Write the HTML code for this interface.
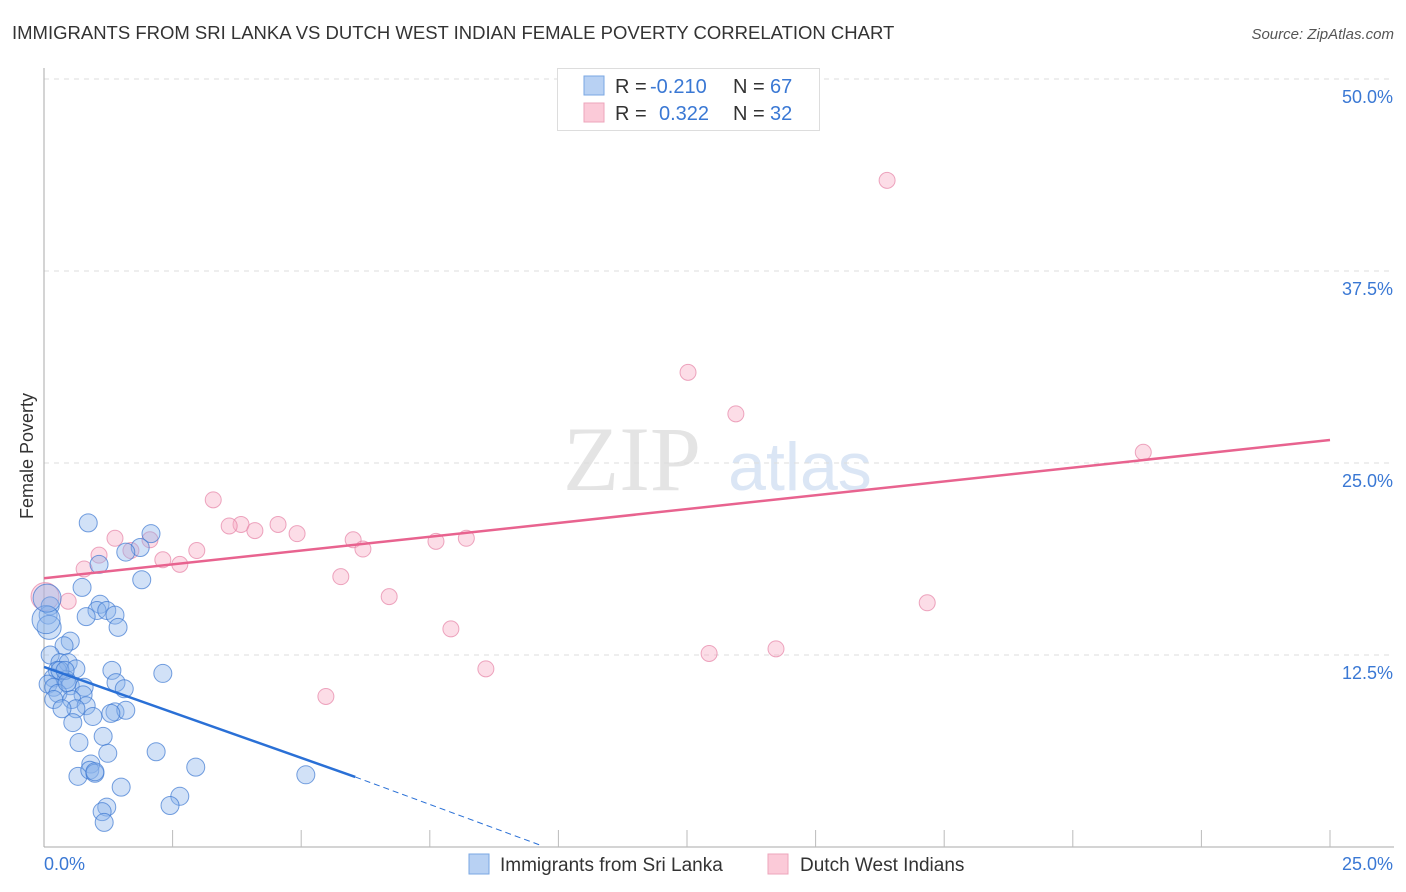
<!DOCTYPE html>
<html><head><meta charset="utf-8"><style>
body{margin:0;background:#fff;font-family:"Liberation Sans",sans-serif}
#wrap{position:relative;width:1406px;height:892px;overflow:hidden}
svg text{font-family:"Liberation Sans",sans-serif}
</style></head><body>
<div id="wrap">
<svg id="svg" width="1406" height="892" xmlns="http://www.w3.org/2000/svg">
<text x="12" y="39" font-size="18.5" fill="#333">IMMIGRANTS FROM SRI LANKA VS DUTCH WEST INDIAN FEMALE POVERTY CORRELATION CHART</text>
<text x="1394" y="39" font-size="15" fill="#555" font-style="italic" text-anchor="end">Source: ZipAtlas.com</text>
<text x="33" y="456" font-size="18" fill="#333" text-anchor="middle" transform="rotate(-90 33 456)">Female Poverty</text>
<g>
<text x="632" y="490" font-size="92" fill="#e4e4e4" text-anchor="middle" style="font-family:'Liberation Serif',serif">ZIP</text>
<text x="800" y="490" font-size="68" fill="#dbe6f5" text-anchor="middle">atlas</text>
</g>
<g id="grid"></g>
<g id="pts"></g>
<g id="lines"></g>
<g>
<rect x="557.5" y="68.5" width="262" height="62" fill="#fff" stroke="#ddd"/>
<rect x="584" y="76" width="20" height="19" fill="#b8d1f3" stroke="#7aa7e3"/>
<rect x="584" y="103" width="20" height="19" fill="#fbcad8" stroke="#eea5bb"/>
<text x="615" y="93" font-size="20" fill="#333">R =</text>
<text x="650" y="93" font-size="20" fill="#3a78d4">-0.210</text>
<text x="733" y="93" font-size="20" fill="#333">N =</text>
<text x="770" y="93" font-size="20" fill="#3a78d4">67</text>
<text x="615" y="120" font-size="20" fill="#333">R =</text>
<text x="659" y="120" font-size="20" fill="#3a78d4">0.322</text>
<text x="733" y="120" font-size="20" fill="#333">N =</text>
<text x="770" y="120" font-size="20" fill="#3a78d4">32</text>
</g>
<g>
<rect x="469" y="854" width="20" height="20" fill="#b8d1f3" stroke="#7aa7e3"/>
<text x="500" y="871" font-size="19" fill="#333">Immigrants from Sri Lanka</text>
<rect x="768" y="854" width="20" height="20" fill="#fbcad8" stroke="#eea5bb"/>
<text x="800" y="871" font-size="19" fill="#333">Dutch West Indians</text>
</g>
</svg></div>
<script>
const xTicks=[0,25];
const yTicks=[12.5,25,37.5,50];
const blueX=[0.86,2.08,1.87,1.59,1.07,1.9,0.74,1.09,1.03,1.22,1.38,0.82,1.44,0.12,0.08,0.1,0.51,0.39,0.12,0.31,0.47,0.62,0.26,1.32,2.31,0.18,0.43,0.08,0.19,1.4,1.56,0.51,0.78,0.76,0.27,0.19,0.54,0.82,0.62,0.35,1.38,1.59,1.3,0.95,0.56,0.68,1.15,1.24,2.18,0.91,0.66,0.89,0.99,2.95,5.09,1.5,2.64,2.45,1.22,1.13,1.17,0.04,0.06,0.31,0.41,0.99,0.45];
const blueY=[21.1,20.4,19.5,19.2,18.4,17.4,16.9,15.8,15.4,15.4,15.1,15.0,14.3,15.7,15.1,14.3,13.4,13.1,12.5,12.0,12.0,11.6,11.5,11.5,11.3,11.0,10.9,10.6,10.4,10.7,10.3,10.5,10.4,9.9,10.0,9.6,9.6,9.2,9.0,9.0,8.8,8.9,8.7,8.5,8.1,6.8,7.2,6.1,6.2,5.4,4.6,5.0,4.8,5.2,4.7,3.9,3.3,2.7,2.6,2.3,1.6,14.8,16.2,11.5,11.5,4.9,10.7];
const blueR=[9,9,9,9,9,9,9,9,9,9,9,9,9,9,9,12,9,9,9,9,9,9,9,9,9,9,9,9,9,9,9,9,9,9,9,9,9,9,9,9,9,9,9,9,9,9,9,9,9,9,9,9,9,9,9,9,9,9,9,9,9,14,14,9,9,9,9];
const pinkX=[16.39,12.52,13.45,21.37,3.29,4.55,3.83,3.6,4.1,4.92,6.01,8.21,2.06,1.38,2.97,1.69,6.2,7.62,1.07,2.31,2.64,0.78,5.77,6.71,0.47,0.02,17.17,7.91,12.93,14.23,8.59,5.48];
const pinkY=[43.4,30.9,28.2,25.7,22.6,21.0,21.0,20.9,20.6,20.4,20.0,20.1,20.0,20.1,19.3,19.3,19.4,19.9,19.0,18.7,18.4,18.1,17.6,16.3,16.0,16.3,15.9,14.2,12.6,12.9,11.6,9.8];
const pinkR=[8,8,8,8,8,8,8,8,8,8,8,8,8,8,8,8,8,8,8,8,8,8,8,8,8,14,8,8,8,8,8,8];
const blueTrend=[0,11.72,6.05,4.56,9.64,0.13];
const pinkTrend=[0,17.5,25,26.5];
const X0=44,X1=1330,Y0=847,Y1=79;
const sx=v=>X0+(v/25)*(X1-X0);
const sy=v=>Y0-(v/50)*(Y0-Y1);
const NS="http://www.w3.org/2000/svg";
function mk(t,a,p){const e=document.createElementNS(NS,t);for(const k in a)e.setAttribute(k,a[k]);p.appendChild(e);return e;}
const grid=document.getElementById('grid');
yTicks.forEach(v=>{
 const l=mk('line',{x1:44,x2:1394,y1:sy(v),y2:sy(v),stroke:'#ddd','stroke-dasharray':'5,5'},grid);
 
 
 const t=mk('text',{x:1393,y:sy(v)+24,'font-size':18,fill:'#3a78d4','text-anchor':'end'},grid);
 t.textContent=v.toFixed(1)+'%';
 
 
});
const ax=mk('line',{x1:44,x2:44,y1:68,y2:847,stroke:'#aaa'},grid);


const bx=mk('line',{x1:44,x2:1394,y1:847,y2:847,stroke:'#aaa'},grid);


for(let i=1;i<=10;i++){const x=44+i*128.6;const tk=mk('line',{x1:x,x2:x,y1:830,y2:847,stroke:'#bbb'},grid);
 
 }
xTicks.forEach((v,i)=>{const t=mk('text',{x:i?1393:44,y:870,'font-size':18,fill:'#3a78d4','text-anchor':i?'end':'start'},grid);
 t.textContent=v.toFixed(1)+'%';
 
 });
const pts=document.getElementById('pts');
pinkX.forEach((v,i)=>{const c=mk('circle',{cx:sx(v),cy:sy(pinkY[i]),r:pinkR[i],fill:'rgba(247,170,195,0.4)',stroke:'rgba(230,130,165,0.7)','stroke-width':1},pts);
 
 });
blueX.forEach((v,i)=>{const c=mk('circle',{cx:sx(v),cy:sy(blueY[i]),r:blueR[i],fill:'rgba(140,180,235,0.4)',stroke:'rgba(60,120,210,0.7)','stroke-width':1},pts);
 
 });
const ln=document.getElementById('lines');
const p=mk('line',{x1:sx(pinkTrend[0]),y1:sy(pinkTrend[1]),x2:sx(pinkTrend[2]),y2:sy(pinkTrend[3]),stroke:'#e8638f','stroke-width':2.5},ln);


const b=mk('line',{x1:sx(blueTrend[0]),y1:sy(blueTrend[1]),x2:sx(blueTrend[2]),y2:sy(blueTrend[3]),stroke:'#2a70d6','stroke-width':2.5},ln);


const bd=mk('line',{x1:sx(blueTrend[2]),y1:sy(blueTrend[3]),x2:sx(blueTrend[4]),y2:sy(blueTrend[5]),stroke:'#2a70d6','stroke-width':1,'stroke-dasharray':'6,4'},ln);


</script>
</body></html>
